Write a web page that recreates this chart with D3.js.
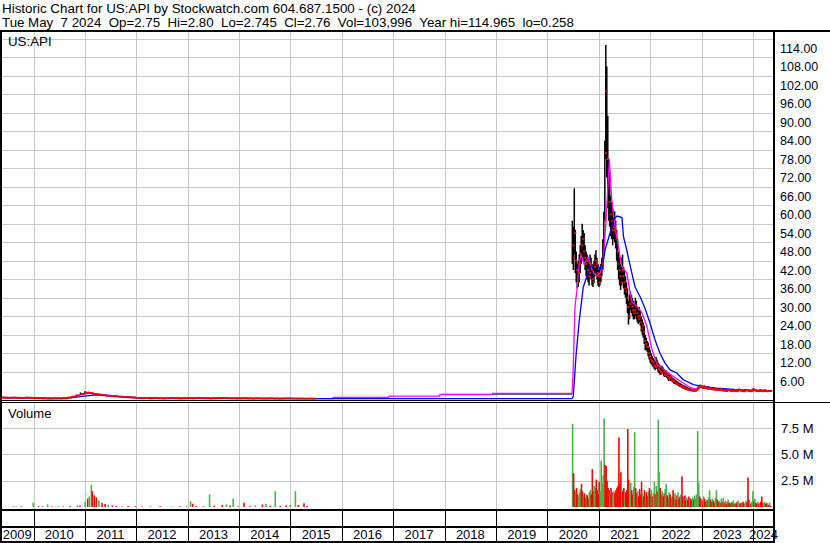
<!DOCTYPE html>
<html>
<head>
<meta charset="utf-8">
<script src="https://cdn.jsdelivr.net/npm/d3@7"></script>
<style>
  body { margin: 0; background: #fff; }
  text { font-family: "Liberation Sans", Arial, sans-serif; }
</style>
</head>
<body>
<div id="chart"></div>
<script>
// Header text
var titleLine = "Historic Chart for US:API by Stockwatch.com 604.687.1500 - (c) 2024";
var quoteLine = "Tue May  7 2024  Op=2.75  Hi=2.80  Lo=2.745  Cl=2.76  Vol=103,996  Year hi=114.965  lo=0.258";
var symbol = "US:API";

// Axis labels
var years = [2009, 2010, 2011, 2012, 2013, 2014, 2015, 2016, 2017, 2018, 2019, 2020, 2021, 2022, 2023, 2024];
var priceTicks = [6, 12, 18, 24, 30, 36, 42, 48, 54, 60, 66, 72, 78, 84, 90, 96, 102, 108, 114];
var volumeTicks = [2.5, 5, 7.5];   // millions

// Early period, monthly bars starting May 2009
var earlyStart = "2009-05-01";
var earlyHigh = [0.7, 0.8, 0.7, 0.75, 0.7, 0.65, 0.75, 0.7,
  0.65, 0.6, 0.5, 0.4, 0.4, 0.45, 0.45, 0.55, 0.8, 1.1, 1.6, 2.3,
  2.7, 2.5, 2.2, 1.9, 1.7, 1.5, 1.3, 1.2, 1.1, 1.0, 0.9, 0.8,
  0.65, 0.6, 0.65, 0.55, 0.6, 0.5, 0.45, 0.55, 0.6, 0.5, 0.45, 0.5,
  0.6, 0.55, 0.7, 0.6, 0.5, 0.45, 0.5, 0.6, 0.65, 0.55, 0.45, 0.4,
  0.45, 0.55, 0.45, 0.4, 0.45, 0.4, 0.4, 0.45, 0.4, 0.35, 0.4, 0.45,
  0.4, 0.38, 0.4, 0.35, 0.4, 0.36];
var earlyLow = [0.45, 0.5, 0.4, 0.5, 0.45, 0.4, 0.5, 0.45,
  0.4, 0.35, 0.28, 0.26, 0.26, 0.3, 0.3, 0.33, 0.45, 0.7, 1.0, 1.4,
  1.8, 1.8, 1.6, 1.4, 1.2, 1.0, 0.95, 0.85, 0.75, 0.65, 0.55, 0.45,
  0.4, 0.38, 0.4, 0.33, 0.38, 0.33, 0.3, 0.33, 0.38, 0.33, 0.3, 0.33,
  0.38, 0.33, 0.4, 0.38, 0.33, 0.3, 0.33, 0.38, 0.42, 0.33, 0.3, 0.26,
  0.3, 0.33, 0.3, 0.26, 0.3, 0.26, 0.26, 0.3, 0.26, 0.26, 0.26, 0.3,
  0.26, 0.26, 0.26, 0.26, 0.26, 0.26];
var earlyClose = [0.55, 0.6, 0.5, 0.6, 0.55, 0.5, 0.6, 0.55,
  0.5, 0.45, 0.35, 0.3, 0.3, 0.35, 0.35, 0.4, 0.6, 0.9, 1.3, 1.8,
  2.2, 2.1, 1.8, 1.6, 1.4, 1.2, 1.1, 1.0, 0.9, 0.8, 0.7, 0.6,
  0.5, 0.45, 0.5, 0.4, 0.45, 0.4, 0.35, 0.4, 0.45, 0.4, 0.35, 0.4,
  0.45, 0.4, 0.5, 0.45, 0.4, 0.35, 0.4, 0.45, 0.5, 0.4, 0.35, 0.3,
  0.35, 0.4, 0.35, 0.3, 0.35, 0.3, 0.3, 0.35, 0.3, 0.25, 0.3, 0.35,
  0.3, 0.28, 0.3, 0.26, 0.3, 0.28];

// Early period volume (millions), up = 1 green / 0 red
var earlyVolDates = ["2009-08-08", "2009-08-29", "2009-10-05", "2009-12-28", "2010-02-03", "2010-03-04", "2010-04-09",
  "2010-05-12", "2010-06-25", "2010-07-28", "2010-09-17", "2010-11-07", "2010-11-25", "2011-01-01", "2011-01-19",
  "2011-01-30", "2011-02-14", "2011-02-21", "2011-03-07", "2011-03-22", "2011-04-09", "2011-05-01", "2011-05-23",
  "2011-06-14", "2011-07-13", "2011-08-11", "2011-09-20", "2011-11-03", "2011-12-24", "2012-02-10", "2012-04-08",
  "2012-06-17", "2012-09-09", "2012-11-06", "2012-12-20", "2013-01-19", "2013-02-03", "2013-02-28", "2013-04-20",
  "2013-06-03", "2013-07-06", "2013-09-02", "2013-10-01", "2013-10-27", "2013-11-18", "2013-12-24", "2014-02-03",
  "2014-03-18", "2014-04-24", "2014-06-14", "2014-07-09", "2014-08-08", "2014-09-13", "2014-10-19", "2014-11-28",
  "2014-12-28", "2015-02-03", "2015-02-24", "2015-04-05", "2015-04-27"];
var earlyVol = [0.05, 0.04, 0.06, 0.4, 0.08, 0.1, 0.25,
  0.05, 0.07, 0.05, 0.08, 0.15, 0.12, 0.5, 0.8,
  1.0, 2.1, 1.5, 1.1, 0.9, 0.6, 0.4, 0.3,
  0.2, 0.15, 0.1, 0.08, 0.1, 0.07, 0.06, 0.05,
  0.08, 0.05, 0.06, 0.08, 0.55, 0.3, 0.08, 0.1,
  1.2, 0.12, 0.2, 0.25, 0.15, 0.8, 0.1, 0.4,
  0.08, 0.15, 0.25, 0.3, 0.12, 1.5, 0.1, 0.15,
  0.2, 1.5, 0.2, 0.35, 0.1];
var earlyVolUp = [0, 1, 0, 1, 0, 1, 1,
  0, 1, 0, 0, 1, 0, 1, 0,
  1, 1, 0, 0, 0, 1, 0, 0,
  1, 0, 0, 1, 0, 0, 1, 0,
  0, 1, 0, 1, 1, 0, 0, 1,
  1, 0, 0, 1, 0, 1, 1, 0,
  0, 1, 0, 1, 0, 1, 0, 0,
  1, 1, 0, 0, 0];

// Quiet years before the 2020 listing: flat last-quote line
var idleDates = ["2017-12-01", "2020-06-24"];
var idleValues = [1.7, 1.7];

// Active period, weekly bars starting 26 Jun 2020
var weekStart = "2020-06-26";
var weekHigh = [58, 56, 68.5, 55, 48, 44, 45, 47, 50, 53,
  57, 55, 54, 50, 48, 47, 46, 44, 47, 46,
  44, 43, 45, 47, 48.4, 46, 44, 42, 43, 44,
  46, 52, 61, 84, 115, 108, 92, 78, 74, 66,
  64, 62, 60, 61, 58, 55, 52, 48, 46, 44,
  46, 47, 43, 42, 40, 38, 36, 32, 34, 35,
  34, 33, 32, 31, 33, 32, 30, 29, 30, 29,
  27, 26, 25, 24, 21, 20, 19, 18.5, 17, 16,
  15, 14, 13.5, 13, 12.5, 13.8, 13, 12, 11.5, 11,
  10.5, 11, 10.5, 10, 9.5, 9.6, 9, 8.5, 8, 8.2,
  8, 7.5, 7, 6.8, 6.5, 6.4, 6, 5.8, 5.5, 5.4,
  5.2, 5, 4.8, 4.6, 4.5, 4.3, 4.2, 4, 3.8, 3.7,
  3.6, 3.5, 3.4, 3.5, 3.3, 3.4, 3.6, 3.9, 4.3, 4.8,
  4.8, 4.6, 4.5, 4.4, 4.6, 4.4, 4.2, 4.1, 4.3, 4.1,
  4, 3.9, 3.9, 3.8, 3.7, 3.6, 3.7, 3.6, 3.5, 3.5,
  3.6, 3.5, 3.4, 3.3, 3.4, 3.3, 3.2, 3.3, 3.5, 3.4,
  3.3, 3.2, 3.1, 3.2, 3.3, 3.2, 3.1, 3.2, 3.4, 3.5,
  3.3, 3.2, 3.1, 3.2, 3.1, 3.3, 3.4, 3.3, 3.2, 3.1,
  3, 3.1, 3.2, 3.5, 3.6, 3.3, 3.2, 3.1, 3, 3.1,
  3.2, 3.3, 3.1, 3, 3.1, 3.2, 3.1, 3, 2.9, 3,
  2.9, 2.8];
var weekLow = [44, 42, 47, 41, 38, 36, 36.5, 38, 41, 44,
  46, 45, 44, 42, 40, 39, 38, 37, 40, 39,
  37, 36.5, 38, 40, 41, 39, 37, 36.5, 37, 38,
  40, 42, 48, 58, 78, 72, 62, 58, 56, 53,
  52, 50, 52, 51, 49, 45, 42, 39, 37, 35.5,
  37, 38, 36, 34, 33, 31, 28, 24.3, 26, 29,
  28, 27, 26, 26, 27, 26, 25, 24.5, 25, 24,
  22, 21, 20, 18, 16, 16, 15.5, 14, 13, 12,
  11.5, 11, 10.5, 10, 9.5, 10, 10, 9, 8.5, 8,
  8, 8.5, 8.2, 7.5, 7.3, 7.5, 7, 6.5, 6, 6.5,
  6, 5.8, 5.5, 5.2, 5, 4.9, 4.8, 4.5, 4.3, 4.1,
  4, 3.8, 3.6, 3.5, 3.3, 3.2, 3.1, 3, 2.9, 2.8,
  2.8, 2.7, 2.7, 2.6, 2.6, 2.7, 2.8, 3, 3.3, 3.7,
  3.9, 3.8, 3.6, 3.5, 3.6, 3.5, 3.4, 3.3, 3.4, 3.3,
  3.2, 3.2, 3.1, 3.1, 3, 3, 3.1, 3, 2.9, 2.9,
  3, 3, 2.8, 2.7, 2.8, 2.7, 2.6, 2.7, 2.8, 2.8,
  2.7, 2.6, 2.5, 2.6, 2.7, 2.7, 2.6, 2.6, 2.7, 2.9,
  2.8, 2.7, 2.6, 2.6, 2.5, 2.6, 2.8, 2.8, 2.7, 2.6,
  2.5, 2.5, 2.6, 2.7, 2.9, 2.8, 2.7, 2.6, 2.5, 2.6,
  2.7, 2.7, 2.6, 2.5, 2.6, 2.7, 2.6, 2.6, 2.5, 2.6,
  2.6, 2.7];
var weekClose = [50, 46, 54, 45, 42, 38, 41, 44, 47, 50,
  52, 48, 46, 44, 45, 42, 40, 41, 44, 42,
  39, 38, 43, 45, 44, 41, 40, 38, 40, 42,
  44, 50, 58, 80, 100, 78, 70, 64, 60, 58,
  55, 56, 55, 54, 52, 48, 44, 42, 40, 38,
  42, 40, 38, 36, 35, 33, 30, 27, 31, 32,
  30, 29, 28, 29, 30, 28, 27, 26, 27, 25,
  23, 24, 22, 19, 18, 17, 17, 15, 14, 13,
  12.5, 12, 11, 11, 10.5, 12, 11, 10, 9.5, 9,
  8.5, 10, 9, 8, 8.5, 8, 7.5, 7, 7, 7.5,
  6.5, 6.2, 6, 5.8, 5.5, 5.2, 5, 4.9, 4.6, 4.4,
  4.3, 4.1, 3.9, 3.8, 3.6, 3.4, 3.3, 3.2, 3.1, 3,
  3.1, 2.9, 2.9, 3, 2.8, 3, 3.2, 3.5, 4, 4.4,
  4.2, 4.1, 3.9, 3.8, 4, 3.7, 3.6, 3.5, 3.8, 3.6,
  3.5, 3.4, 3.3, 3.4, 3.2, 3.2, 3.3, 3.1, 3.1, 3.2,
  3.3, 3.2, 3, 2.9, 3, 2.9, 2.8, 3, 3.1, 3,
  2.9, 2.8, 2.7, 2.8, 3, 2.9, 2.8, 2.7, 3.1, 3.2,
  3, 2.9, 2.8, 2.7, 2.7, 2.9, 3.1, 3, 2.9, 2.8,
  2.7, 2.8, 2.9, 3.3, 3.1, 3, 2.9, 2.8, 2.7, 2.8,
  3, 2.9, 2.8, 2.7, 2.9, 3, 2.8, 2.7, 2.7, 2.8,
  2.75, 2.76];
var weekVol = [7.9, 3.2, 1.6, 1.3, 1.8, 1.2, 1.0, 1.4, 1.7, 2.2,
  1.5, 1.0, 1.3, 0.9, 1.2, 1.1, 0.8, 1.4, 1.6, 1.2,
  3.6, 1.5, 2.0, 1.8, 2.6, 1.6, 1.2, 2.4, 1.5, 4.4,
  2.2, 3.0, 8.4, 4.0, 3.9, 2.5, 1.8, 1.6, 1.2, 1.8,
  1.4, 1.1, 1.5, 1.3, 1.6, 1.8, 2.0, 6.6, 2.2, 3.3,
  1.7, 1.5, 1.8, 0.8, 1.4, 1.6, 7.4, 2.6, 1.4, 2.3,
  1.6, 1.2, 1.9, 7.1, 1.8, 1.3, 1.5, 1.0, 1.7, 1.2,
  2.4, 1.3, 1.0, 1.6, 0.9, 1.4, 1.1, 1.5, 1.8, 1.2,
  1.6, 1.0, 1.3, 2.4, 1.2, 2.0, 1.5, 8.3, 3.3, 1.8,
  1.2, 1.5, 1.0, 1.3, 1.7, 2.2, 1.1, 0.9, 1.4, 1.2,
  0.8, 1.0, 1.6, 0.9, 1.3, 0.7, 1.1, 1.4, 0.8, 1.0,
  1.2, 2.9, 1.0, 0.8, 1.1, 0.6, 0.9, 0.7, 1.0, 0.5,
  0.8, 0.6, 0.9, 0.7, 1.1, 0.8, 1.2, 7.2, 2.3, 1.0,
  0.8, 0.7, 0.6, 1.0, 0.8, 0.5, 0.7, 0.6, 0.9, 1.6,
  0.7, 0.5, 0.8, 0.6, 0.4, 0.9, 1.6, 0.7, 0.5, 0.6,
  0.4, 0.8, 0.5, 0.9, 0.4, 0.6, 0.3, 0.5, 0.7, 0.4,
  0.3, 0.5, 0.4, 0.6, 0.3, 0.4, 0.3, 0.5, 0.6, 0.4,
  0.3, 0.4, 0.3, 0.5, 0.3, 0.4, 0.6, 0.4, 2.8, 0.7,
  0.4, 0.3, 0.5, 1.5, 0.6, 0.8, 0.4, 0.3, 0.5, 0.3,
  0.4, 0.5, 1.0, 0.4, 0.3, 0.5, 0.3, 0.4, 0.3, 0.2,
  0.4, 0.1];
var weekUp = [1, 0, 0, 1, 0, 0, 1, 1, 1, 0,
  0, 1, 0, 0, 1, 0, 0, 1, 1, 0,
  0, 0, 1, 1, 0, 0, 0, 0, 1, 1,
  1, 1, 1, 0, 0, 0, 0, 0, 1, 0,
  0, 1, 1, 0, 0, 0, 0, 0, 0, 0,
  1, 0, 0, 1, 0, 0, 0, 0, 1, 1,
  0, 0, 1, 1, 0, 0, 1, 0, 0, 0,
  0, 1, 0, 0, 1, 0, 0, 1, 0, 0,
  1, 0, 1, 1, 0, 1, 0, 1, 1, 0,
  0, 1, 0, 0, 1, 1, 0, 0, 1, 0,
  0, 1, 0, 0, 1, 0, 0, 1, 0, 0,
  1, 0, 0, 1, 0, 0, 1, 0, 0, 1,
  0, 0, 1, 0, 1, 1, 1, 1, 1, 0,
  0, 1, 0, 1, 0, 0, 1, 0, 1, 1,
  0, 0, 1, 0, 0, 1, 1, 0, 0, 1,
  0, 1, 0, 1, 0, 1, 0, 0, 1, 0,
  0, 1, 0, 1, 0, 1, 0, 0, 1, 1,
  0, 0, 1, 0, 0, 1, 1, 0, 0, 0,
  1, 0, 1, 1, 0, 1, 0, 0, 1, 0,
  1, 0, 0, 0, 1, 1, 0, 0, 1, 0,
  1, 0];

// Moving averages (magenta = fast, blue = slow)
var fastMaDates = ["2009-05-01", "2009-10-01", "2010-02-01", "2010-05-01", "2010-08-01", "2010-10-01", "2010-12-01",
  "2011-02-01", "2011-04-01", "2011-07-01", "2011-10-01", "2012-01-01", "2012-07-01", "2013-01-01", "2013-07-01",
  "2014-01-01", "2014-07-01", "2015-01-01", "2015-06-01", "2015-10-30", "2015-11-01", "2016-11-30", "2016-12-01",
  "2017-11-27", "2017-11-28", "2018-12-07", "2018-12-08", "2020-06-24", "2020-07-01", "2020-07-15", "2020-07-30",
  "2020-08-13", "2020-08-27", "2020-09-17", "2020-10-16", "2020-11-13", "2020-12-12", "2021-01-09", "2021-01-30",
  "2021-02-21", "2021-03-16", "2021-04-02", "2021-04-26", "2021-05-19", "2021-06-12", "2021-07-18", "2021-08-23",
  "2021-09-27", "2021-11-02", "2021-12-07", "2022-01-12", "2022-02-16", "2022-04-04", "2022-05-22", "2022-08-01",
  "2022-10-11", "2022-11-27", "2022-12-21", "2023-02-06", "2023-04-18", "2023-07-22", "2023-11-05", "2024-02-20",
  "2024-05-08"];
var fastMaValues = [0.55, 0.55, 0.5, 0.33, 0.38, 0.8, 1.5,
  2.1, 1.75, 1.2, 0.85, 0.55, 0.42, 0.45, 0.42,
  0.35, 0.32, 0.3, 0.28, 0.3, 0.7, 0.7, 1.1,
  1.1, 1.6, 1.6, 2.0, 2.0, 8, 30, 36,
  44, 47, 44, 46, 42, 40, 41, 44,
  58, 77.7, 64.7, 56, 49.7, 43.2, 41, 31.5,
  30.4, 28.2, 23.9, 16.4, 11.5, 9.9, 8.2, 6.0,
  3.9, 3.3, 4.4, 4.1, 3.4, 3.0, 2.9, 3.0,
  2.8];
var slowMaDates = ["2009-05-01", "2010-01-01", "2010-06-01", "2010-09-01", "2010-12-01", "2011-03-01", "2011-06-01",
  "2011-09-01", "2012-01-01", "2012-06-01", "2013-01-01", "2014-01-01", "2015-01-01", "2015-06-01", "2020-06-24",
  "2020-07-03", "2020-07-22", "2020-08-13", "2020-09-12", "2020-10-30", "2020-12-19", "2021-01-23", "2021-02-14",
  "2021-03-21", "2021-04-18", "2021-05-10", "2021-06-14", "2021-06-24", "2021-07-18", "2021-08-23", "2021-09-15",
  "2021-10-21", "2021-11-25", "2021-12-30", "2022-02-04", "2022-03-11", "2022-04-16", "2022-05-22", "2022-07-08",
  "2022-08-24", "2022-11-03", "2023-01-13", "2023-04-18", "2023-10-01", "2024-05-08"];
var slowMaValues = [0.65, 0.55, 0.4, 0.45, 0.9, 1.45, 1.4,
  1.0, 0.7, 0.5, 0.45, 0.4, 0.35, 0.3, 0.3,
  1.0, 14, 25, 36.5, 43, 43.5, 42, 48.5,
  54, 58.5, 59.5, 59, 53, 48.4, 41, 36.5,
  33.3, 29.5, 24.8, 19.3, 15, 11.8, 9.6, 8.6,
  6.4, 4.8, 4.2, 3.7, 3.1, 2.7];

// ---------------------------------------------------------------
var parse = d3.timeParse("%Y-%m-%d");

var earlyBars = earlyClose.map(function(c, i) {
  return { date: d3.timeMonth.offset(parse(earlyStart), i), hi: earlyHigh[i], lo: earlyLow[i], close: c, w: 4 };
});
var weekBars = weekClose.map(function(c, i) {
  return { date: d3.timeDay.offset(parse(weekStart), 7 * i), hi: weekHigh[i], lo: weekLow[i], close: c, w: 2 };
});
var bars = earlyBars.concat(weekBars);

var volumes = earlyVol.map(function(v, i) {
  return { date: parse(earlyVolDates[i]), vol: v, up: earlyVolUp[i] };
}).concat(weekVol.map(function(v, i) {
  return { date: d3.timeDay.offset(parse(weekStart), 7 * i), vol: v, up: weekUp[i] };
}));

var fastMa = fastMaDates.map(function(d, i) { return { date: parse(d), v: fastMaValues[i] }; });
var slowMa = slowMaDates.map(function(d, i) { return { date: parse(d), v: slowMaValues[i] }; });
var idle = idleDates.map(function(d, i) { return { date: parse(d), v: idleValues[i] }; });

// Layout
var svgWidth = 830, svgHeight = 543;
var plotLeft = 1, plotRight = 774;
var priceTop = 31, priceBottom = 400;
var volTop = 402, volBottom = 509;

var svg = d3.select("#chart").append("svg")
  .attr("width", svgWidth)
  .attr("height", svgHeight)
  .style("display", "block");

svg.append("rect").attr("width", svgWidth).attr("height", svgHeight).attr("fill", "#fff");

// Scales
var xScale = d3.scaleTime()
  .domain([new Date(2010, 0, 1), new Date(2024, 0, 1)])
  .range([33.5, 753]);
var yPrice = d3.scaleLinear().domain([0, 114]).range([399.5, 48]);
var yVol = d3.scaleLinear().domain([0, 7.5]).range([507, 428]);

var yearBounds = d3.range(2010, 2025).map(function(y) { return new Date(y, 0, 1); });

// Gridlines
var grid = svg.append("g").attr("shape-rendering", "crispEdges");
grid.selectAll(".vgrid-price")
  .data(yearBounds)
  .enter().append("line")
  .attr("x1", function(d) { return Math.round(xScale(d)) + 0.5; })
  .attr("x2", function(d) { return Math.round(xScale(d)) + 0.5; })
  .attr("y1", priceTop).attr("y2", priceBottom)
  .attr("stroke", "#c8c8c8");
grid.selectAll(".vgrid-vol")
  .data(yearBounds)
  .enter().append("line")
  .attr("x1", function(d) { return Math.round(xScale(d)) + 0.5; })
  .attr("x2", function(d) { return Math.round(xScale(d)) + 0.5; })
  .attr("y1", volTop).attr("y2", volBottom)
  .attr("stroke", "#c8c8c8");
// price gridlines sit half a step above each label
grid.selectAll(".hgrid-price")
  .data(priceTicks)
  .enter().append("line")
  .attr("x1", plotLeft).attr("x2", plotRight)
  .attr("y1", function(d) { return Math.round(yPrice(d + 3)) + 0.5; })
  .attr("y2", function(d) { return Math.round(yPrice(d + 3)) + 0.5; })
  .attr("stroke", "#c8c8c8");
grid.selectAll(".hgrid-vol")
  .data(volumeTicks)
  .enter().append("line")
  .attr("x1", plotLeft).attr("x2", plotRight)
  .attr("y1", function(d) { return Math.round(yVol(d)) + 0.5; })
  .attr("y2", function(d) { return Math.round(yVol(d)) + 0.5; })
  .attr("stroke", "#c8c8c8");

// Price panel
svg.append("clipPath").attr("id", "priceClip")
  .append("rect").attr("x", 2).attr("y", priceTop + 1).attr("width", plotRight - 3).attr("height", priceBottom - priceTop - 1);
var priceGroup = svg.append("g").attr("clip-path", "url(#priceClip)");

var maLine = d3.line()
  .x(function(d) { return xScale(d.date); })
  .y(function(d) { return yPrice(d.v); });

priceGroup.append("path")
  .datum(idle)
  .attr("d", maLine)
  .attr("fill", "none")
  .attr("stroke", "#303030")
  .attr("stroke-width", 1);

priceGroup.selectAll(".hl")
  .data(bars)
  .enter().append("line")
  .attr("x1", function(d) { return xScale(d.date); })
  .attr("x2", function(d) { return xScale(d.date); })
  .attr("y1", function(d) { return yPrice(d.hi); })
  .attr("y2", function(d) { return yPrice(d.lo); })
  .attr("stroke", "#000")
  .attr("stroke-width", 1.5);

priceGroup.append("path")
  .datum(fastMa)
  .attr("d", maLine)
  .attr("fill", "none")
  .attr("stroke", "#ff00ff")
  .attr("stroke-width", 1.3);

priceGroup.append("path")
  .datum(slowMa)
  .attr("d", maLine)
  .attr("fill", "none")
  .attr("stroke", "#0000ff")
  .attr("stroke-width", 1.3);

priceGroup.selectAll(".close")
  .data(bars)
  .enter().append("line")
  .attr("x1", function(d) { return xScale(d.date); })
  .attr("x2", function(d) { return xScale(d.date) + d.w; })
  .attr("y1", function(d) { return yPrice(d.close); })
  .attr("y2", function(d) { return yPrice(d.close); })
  .attr("stroke", "#ff0000")
  .attr("stroke-width", 2);

// Volume panel
svg.append("g")
  .selectAll("rect")
  .data(volumes)
  .enter().append("rect")
  .attr("x", function(d) { return xScale(d.date) - 0.5; })
  .attr("y", function(d) { return yVol(d.vol); })
  .attr("width", 1.6)
  .attr("height", function(d) { return yVol(0) - yVol(d.vol); })
  .attr("fill", function(d) { return d.up ? "#4cb04c" : "#ff0000"; });

// Frame lines
var frame = svg.append("g").attr("fill", "#000").attr("shape-rendering", "crispEdges");
frame.append("rect").attr("x", 0).attr("y", 30).attr("width", svgWidth).attr("height", 2);
frame.append("rect").attr("x", 0).attr("y", 30).attr("width", 2).attr("height", 513);
frame.append("rect").attr("x", 773).attr("y", 30).attr("width", 2).attr("height", 513);
frame.append("rect").attr("x", 0).attr("y", 400).attr("width", plotRight).attr("height", 1);
frame.append("rect").attr("x", 0).attr("y", 402).attr("width", svgWidth).attr("height", 1);
frame.append("rect").attr("x", 0).attr("y", 509).attr("width", plotRight).attr("height", 2);
frame.append("rect").attr("x", 0).attr("y", 526).attr("width", plotRight).attr("height", 2);
frame.append("rect").attr("x", 0).attr("y", 541).attr("width", plotRight).attr("height", 2);
frame.selectAll(".ytick")
  .data(yearBounds)
  .enter().append("rect")
  .attr("x", function(d) { return Math.round(xScale(d)); })
  .attr("y", 511).attr("width", 1).attr("height", 30);

// Year labels, centred in each year slot
svg.append("g").selectAll("text")
  .data(years)
  .enter().append("text")
  .attr("x", function(y) {
    var a = Math.max(plotLeft, xScale(new Date(y, 0, 1)));
    var b = Math.min(plotRight, xScale(new Date(y + 1, 0, 1)));
    return (a + b) / 2;
  })
  .attr("y", 539)
  .attr("text-anchor", "middle")
  .attr("font-size", "13px")
  .attr("fill", "#000020")
  .text(function(y) { return y; });

// Right axes
var priceAxis = d3.axisRight(yPrice)
  .tickValues(priceTicks)
  .tickSize(0)
  .tickPadding(6)
  .tickFormat(d3.format(".2f"));
var pa = svg.append("g").attr("transform", "translate(774,0)").call(priceAxis);
pa.select(".domain").remove();
pa.selectAll("text").attr("font-size", "12.5px").attr("fill", "#000020").attr("font-family", "Liberation Sans, Arial, sans-serif");

var volAxis = d3.axisRight(yVol)
  .tickValues(volumeTicks)
  .tickSize(0)
  .tickPadding(7)
  .tickFormat(function(d) { return d.toFixed(1) + " M"; });
var va = svg.append("g").attr("transform", "translate(774,0)").call(volAxis);
va.select(".domain").remove();
va.selectAll("text").attr("font-size", "13px").attr("fill", "#000020").attr("font-family", "Liberation Sans, Arial, sans-serif");

// Titles
svg.append("text").attr("x", 2).attr("y", 13).attr("font-size", "13.4px")
  .style("white-space", "pre").text(titleLine);
svg.append("text").attr("x", 2).attr("y", 27).attr("font-size", "13.3px")
  .style("white-space", "pre").text(quoteLine);
svg.append("text").attr("x", 8).attr("y", 46).attr("font-size", "13.3px").text(symbol);
svg.append("text").attr("x", 8).attr("y", 418).attr("font-size", "13px").text("Volume");
</script>
</body>
</html>
